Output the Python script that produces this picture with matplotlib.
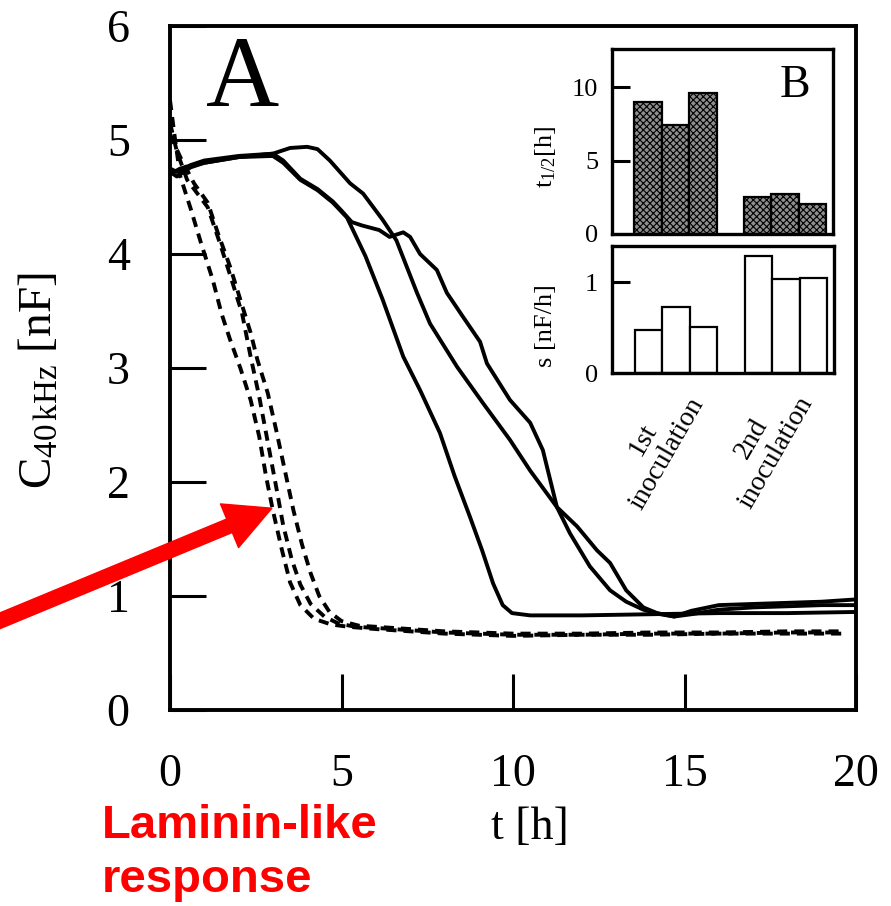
import matplotlib
matplotlib.use("Agg")
import matplotlib.pyplot as plt

plt.rcParams['font.family'] = ['Liberation Serif', 'DejaVu Serif']
plt.rcParams['mathtext.fontset'] = 'custom'
plt.rcParams['mathtext.rm'] = 'Liberation Serif'
plt.rcParams['mathtext.it'] = 'Liberation Serif:italic'
plt.rcParams['hatch.linewidth'] = 0.8

# --- curves of panel A (t in h, C in nF) ---
a_t = [0, 0.2, 0.6, 1, 2, 3, 3.3, 3.8, 4.3, 4.75, 5.16, 5.7, 6.2, 6.8, 7.3, 7.87, 8.3, 8.75, 9.1, 9.42, 9.7, 9.97, 10.5, 12, 14, 16, 18, 20]
a_c = [4.72, 4.68, 4.76, 4.8, 4.85, 4.86, 4.8, 4.65, 4.56, 4.45, 4.32, 3.98, 3.6, 3.1, 2.8, 2.43, 2.05, 1.69, 1.4, 1.11, 0.92, 0.85, 0.83, 0.83, 0.84, 0.85, 0.85, 0.86]

b_t = [0, 0.2, 0.6, 1, 2, 3, 3.3, 3.8, 4.3, 4.75, 5.0, 5.3, 5.6, 6.1, 6.4, 6.8, 7.0, 7.29, 7.78, 8.07, 8.54, 9.04, 9.24, 9.91, 10.5, 10.87, 11.28, 11.87, 12.45, 12.83, 13.3, 13.8, 14.2, 14.7, 15.2, 16, 17, 18, 19, 20]
b_c = [4.75, 4.72, 4.78, 4.82, 4.86, 4.88, 4.82, 4.66, 4.57, 4.46, 4.38, 4.28, 4.25, 4.21, 4.15, 4.19, 4.15, 4.0, 3.86, 3.66, 3.45, 3.23, 3.04, 2.72, 2.52, 2.28, 1.78, 1.61, 1.4, 1.29, 1.05, 0.9, 0.85, 0.82, 0.87, 0.92, 0.93, 0.94, 0.95, 0.97]

c_t = [0, 0.3, 1, 2, 3, 3.5, 4.0, 4.3, 4.66, 5.25, 5.63, 6.2, 6.6, 7.2, 7.58, 8.37, 9.13, 9.91, 10.5, 11.28, 11.66, 12.24, 12.83, 13.3, 13.8, 14.3, 14.7, 15.2, 16, 17, 18, 19, 20]
c_c = [4.7, 4.75, 4.8, 4.85, 4.88, 4.93, 4.94, 4.92, 4.82, 4.62, 4.53, 4.3, 4.12, 3.66, 3.39, 3.01, 2.69, 2.37, 2.1, 1.78, 1.55, 1.26, 1.05, 0.95, 0.88, 0.84, 0.82, 0.84, 0.88, 0.9, 0.91, 0.92, 0.92]

d1_t = [0, 0.15, 0.3, 0.6, 0.9, 1.25, 1.5, 1.75, 2.05, 2.35, 2.6, 2.8, 3.0, 3.25, 3.5, 3.8, 4.2, 4.7, 5.2, 6, 7, 8, 9, 10, 12, 14, 16, 18, 19.6]
d1_c = [5.35, 5.0, 4.68, 4.4, 4.1, 3.77, 3.48, 3.25, 3.0, 2.72, 2.4, 2.05, 1.75, 1.42, 1.12, 0.92, 0.8, 0.75, 0.73, 0.71, 0.69, 0.67, 0.66, 0.65, 0.66, 0.66, 0.67, 0.67, 0.67]

d2_t = [0, 0.2, 0.5, 1.1, 1.45, 1.8, 2.1, 2.35, 2.6, 2.85, 3.1, 3.3, 3.55, 3.8, 4.1, 4.5, 4.9, 5.4, 6, 7, 8, 9, 10, 12, 14, 16, 18, 19.6]
d2_c = [5.15, 4.9, 4.65, 4.41, 4.1, 3.77, 3.48, 3.1, 2.75, 2.35, 1.95, 1.62, 1.32, 1.1, 0.93, 0.82, 0.76, 0.73, 0.72, 0.7, 0.68, 0.67, 0.66, 0.66, 0.67, 0.67, 0.68, 0.68]

d3_t = [0, 0.3, 0.7, 1.1, 1.4, 1.75, 2.05, 2.35, 2.55, 2.85, 3.1, 3.35, 3.6, 3.85, 4.1, 4.35, 4.65, 5.0, 5.5, 6, 7, 8, 9, 10, 12, 14, 16, 18, 19.6]
d3_c = [5.05, 4.85, 4.62, 4.45, 4.18, 3.89, 3.6, 3.31, 3.07, 2.78, 2.45, 2.1, 1.75, 1.45, 1.2, 1.0, 0.86, 0.78, 0.74, 0.73, 0.71, 0.69, 0.68, 0.67, 0.67, 0.68, 0.68, 0.69, 0.69]

# --- panel B bars ---
bar_pos = [0, 1, 2, 4, 5, 6]
t_half = [9.0, 7.4, 9.6, 2.5, 2.7, 2.05]
slope = [0.47, 0.73, 0.51, 1.29, 1.04, 1.05]
group_labels = ['1st\ninoculation', '2nd\ninoculation']

W, H = 891, 906
fig = plt.figure(figsize=(W / 100, H / 100), dpi=100)


def frac(x0, y0, x1, y1):
    # pixel box (top-left origin) -> figure fraction rect
    return [x0 / W, 1 - y1 / H, (x1 - x0) / W, (y1 - y0) / H]


ax = fig.add_axes(frac(170, 26, 856, 710))
for s in ax.spines.values():
    s.set_linewidth(2.8)
for t, c in [(a_t, a_c), (b_t, b_c), (c_t, c_c)]:
    ax.plot(t, c, color='black', lw=2.8, solid_joinstyle='round')
for t, c in [(d1_t, d1_c), (d2_t, d2_c), (d3_t, d3_c)]:
    ax.plot(t, c, color='black', lw=2.8, dashes=(2.6, 1.8))

ax.set_xlim(0, 20)
ax.set_ylim(0, 6)
ax.set_xticks([0, 5, 10, 15, 20])
ax.set_yticks([0, 1, 2, 3, 4, 5, 6])
ax.tick_params(direction='in', length=26, width=2.2, labelsize=33)
ax.tick_params(axis='y', pad=29)
ax.tick_params(axis='x', pad=31)

ax.text(2.13, 5.51, 'A', fontsize=73, ha='center', va='center')

fig.text(40 / W, 1 - 381 / H, r'C$_{\mathrm{40\,kHz}}$ [nF]', rotation=90,
         ha='center', va='center', fontsize=34)
fig.text(530 / W, 1 - 828 / H, 't [h]', ha='center', va='center', fontsize=33)

# red arrow + label
ax.annotate('', xy=(2.97, 1.77), xytext=(-5.3, 0.74), annotation_clip=False,
            arrowprops=dict(arrowstyle='simple,head_length=0.66,head_width=0.68,tail_width=0.21',
                            color='#ff0000', mutation_scale=50, shrinkA=0, shrinkB=0))
fig.text(102 / W, 1 - 838 / H, 'Laminin-like', color='#ff0000', fontsize=34,
         fontweight='bold', family='Liberation Sans', va='baseline', ha='left')
fig.text(102 / W, 1 - 892 / H, 'response', color='#ff0000', fontsize=34,
         fontweight='bold', family='Liberation Sans', va='baseline', ha='left')

# inset B
axb1 = fig.add_axes(frac(612, 49, 833, 234))
axb2 = fig.add_axes(frac(612, 246, 834, 373))
axb1.bar(bar_pos, t_half, width=1, facecolor='#8e8e8e', edgecolor='black',
         hatch='xxxxx', lw=1.6)
axb2.bar(bar_pos, slope, width=1, facecolor='white', edgecolor='black', lw=1.6)
axb1.set_ylim(0, 12.6)
axb2.set_ylim(0, 1.4)
axb1.set_yticks([0, 5, 10])
axb2.set_yticks([0, 1])
for a in (axb1, axb2):
    a.set_xlim(-1.32, 6.75)
    a.set_xticks([])
    for s in a.spines.values():
        s.set_linewidth(2.4)
    a.tick_params(axis='y', direction='in', length=13, width=2.2, labelsize=19, pad=10)

axb1.text(0.83, 0.8, 'B', transform=axb1.transAxes, fontsize=33, ha='center', va='center')
fig.text(546 / W, 1 - 157 / H, r't$_{\mathrm{1/2}}$[h]', rotation=90, ha='center',
         va='center', fontsize=19)
fig.text(546 / W, 1 - 326 / H, 's [nF/h]', rotation=90, ha='center', va='center',
         fontsize=19)
for lab, (px, py) in zip(group_labels, [(655, 447), (764, 446)]):
    fig.text(px / W, 1 - py / H, lab, rotation=60, ha='center', va='center',
             multialignment='center', fontsize=20, linespacing=1.15)

fig.savefig('out.png', dpi=100)
